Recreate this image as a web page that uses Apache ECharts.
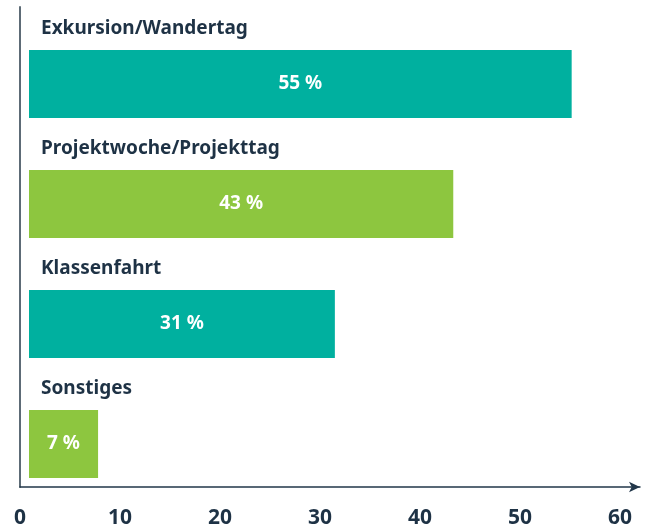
<!DOCTYPE html>
<html>
<head>
<meta charset="utf-8">
<script src="https://cdn.jsdelivr.net/npm/echarts@6/dist/echarts.min.js"></script>
<style>
	html, body { margin: 0; padding: 0; background: #fff; }
	#chart { width: 653px; height: 529px; }
</style>
</head>
<body>
	<div id="chart"></div>
	<script>
		var categories = ['Exkursion/Wandertag', 'Projektwoche/Projekttag', 'Klassenfahrt', 'Sonstiges'];
		var values = [55, 43, 31, 7];
		var barColors = ['#00b09f', '#8dc63f', '#00b09f', '#8dc63f'];

		var textColor = '#1e3245';
		var font = '"Noto Sans", "DejaVu Sans", sans-serif';

		var myChart = echarts.init(document.getElementById('chart'));

		var barData = values.map(function (v, i) {
			return { value: v, itemStyle: { color: barColors[i] } };
		});

		option = {
			animation: false,
			grid: [
				// bars
				{ left: 29, right: 32, top: 24, bottom: 25 },
				// axes with arrow
				{ left: 20, right: 13, top: 7, bottom: 42 }
			],
			xAxis: [
				{ gridIndex: 0, type: 'value', min: 0, max: 60, show: false },
				{
					gridIndex: 1,
					type: 'value',
					min: 0,
					max: 62,
					interval: 10,
					axisLine: {
						show: true,
						symbol: ['none', 'arrow'],
						symbolSize: [8, 11],
						lineStyle: { color: '#22374a', width: 1.5 }
					},
					axisTick: { show: false },
					splitLine: { show: false },
					axisLabel: {
						margin: 21,
						fontSize: 21,
						fontWeight: 'bold',
						fontFamily: font,
						color: textColor,
						formatter: function (v) { return v % 10 === 0 ? String(v) : ''; }
					}
				}
			],
			yAxis: [
				{ gridIndex: 0, type: 'category', data: categories, inverse: true, show: false },
				{
					gridIndex: 1,
					type: 'value',
					min: 0,
					max: 1,
					axisLine: { show: true, lineStyle: { color: '#5d6b76', width: 2 } },
					axisTick: { show: false },
					axisLabel: { show: false },
					splitLine: { show: false }
				}
			],
			series: [
				{
					name: 'Anteil',
					type: 'bar',
					xAxisIndex: 0,
					yAxisIndex: 0,
					barWidth: 68,
					data: barData,
					label: {
						show: true,
						position: 'inside',
						formatter: '{c} %',
						color: '#fff',
						fontSize: 19,
						fontWeight: 'bold',
						fontFamily: font
					}
				},
				{
					name: 'Kategorie',
					type: 'bar',
					xAxisIndex: 0,
					yAxisIndex: 0,
					barWidth: 68,
					barGap: '-100%',
					silent: true,
					data: values,
					itemStyle: { color: 'rgba(0,0,0,0)' },
					label: {
						show: true,
						position: [12, -21],
						align: 'left',
						verticalAlign: 'middle',
						formatter: '{b}',
						color: textColor,
						fontSize: 19,
						fontWeight: 'bold',
						fontFamily: font
					}
				}
			]
		};

		myChart.setOption(option);
	</script>
</body>
</html>
